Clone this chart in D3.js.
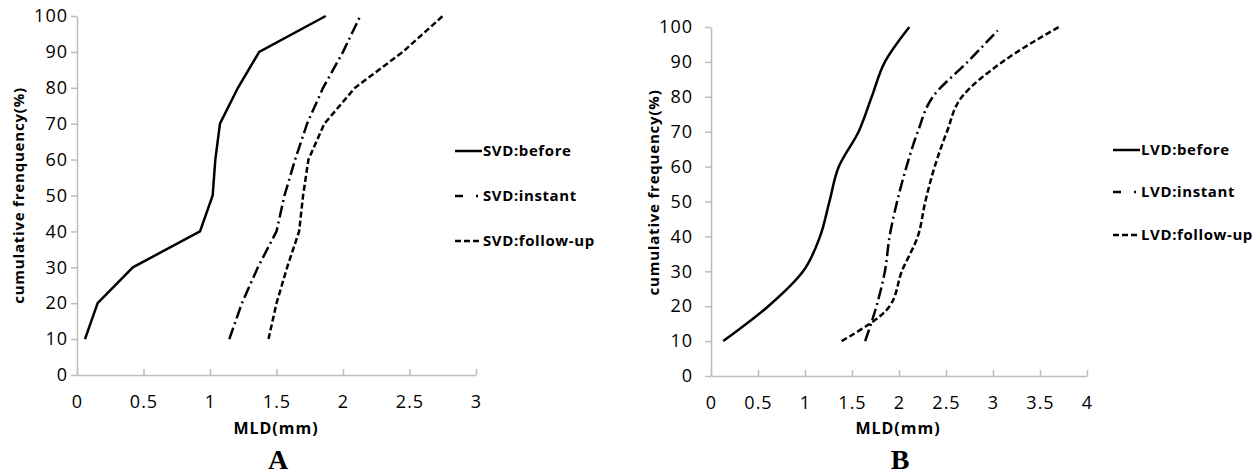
<!DOCTYPE html>
<html>
<head>
<meta charset="utf-8">
<script src="https://cdn.jsdelivr.net/npm/d3@7"></script>
<style>
  body { margin: 0; background: #fff; }
  text { font-family: "Open Sans", "Noto Sans", sans-serif; fill: #000; }
</style>
</head>
<body>
<div id="chart"></div>
<script>
// cumulative frequency levels (%)
var freq = [10, 20, 30, 40, 50, 60, 70, 80, 90, 100];
var freqLvdInstant = [10, 20, 30, 40, 50, 60, 70, 80, 90, 99];

// MLD (mm)
var svdBefore  = [0.06, 0.155, 0.42, 0.925, 1.02, 1.04, 1.075, 1.21, 1.37, 1.87];
var svdInstant = [1.145, 1.24, 1.36, 1.50, 1.56, 1.64, 1.73, 1.85, 2.00, 2.13];
var svdFollow  = [1.44, 1.50, 1.58, 1.67, 1.70, 1.74, 1.86, 2.09, 2.45, 2.75];

var lvdBefore  = [0.13, 0.61, 0.98, 1.16, 1.26, 1.36, 1.57, 1.71, 1.85, 2.11];
var lvdInstant = [1.64, 1.76, 1.85, 1.90, 1.98, 2.08, 2.20, 2.36, 2.73, 3.05];
var lvdFollow  = [1.39, 1.90, 2.03, 2.20, 2.28, 2.38, 2.51, 2.67, 3.10, 3.70];

var yTicks = [0, 10, 20, 30, 40, 50, 60, 70, 80, 90, 100];
var xTicksA = [0, 0.5, 1, 1.5, 2, 2.5, 3];
var xTicksB = [0, 0.5, 1, 1.5, 2, 2.5, 3, 3.5, 4];

var svg = d3.select("#chart").append("svg")
  .attr("width", 1258)
  .attr("height", 474);

var dashes = {
  before: null,
  instant: "12,4,2,4",
  follow: "6,3"
};

function drawPanel(p) {
  var x = d3.scaleLinear().domain(p.xDomain).range([p.left, p.right]);
  var y = d3.scaleLinear().domain([0, 100]).range([p.bottom, p.top]);
  var g = svg.append("g");

  // axes
  var xAxis = g.append("g")
    .attr("transform", "translate(0," + p.bottom + ")")
    .call(d3.axisBottom(x).tickValues(p.xTicks).tickSizeInner(-6).tickSizeOuter(0).tickFormat(d3.format("")));
  xAxis.select(".domain").attr("stroke", "#bdbdbd").attr("stroke-width", 1.5);
  xAxis.selectAll(".tick line").attr("stroke", "#bdbdbd").attr("stroke-width", 1.5);
  xAxis.selectAll(".tick text")
    .attr("y", 20)
    .attr("dy", "0.71em")
    .style("font-size", "18px")
    .style("letter-spacing", "1px");

  var yAxis = g.append("g")
    .attr("transform", "translate(" + p.left + ",0)")
    .call(d3.axisLeft(y).tickValues(yTicks).tickSize(6).tickSizeOuter(0));
  yAxis.select(".domain").attr("stroke", "#bdbdbd").attr("stroke-width", 1.5);
  yAxis.selectAll(".tick line").attr("stroke", "#bdbdbd").attr("stroke-width", 1.5);
  yAxis.selectAll(".tick text")
    .attr("x", -p.labelGap)
    .style("font-size", "18px")
    .style("letter-spacing", "1px");

  // series
  var line = d3.line()
    .x(function(d) { return x(d[0]); })
    .y(function(d) { return y(d[1]); })
    .curve(p.curve);

  p.series.forEach(function(s) {
    var pts = s.values.map(function(v, i) { return [v, s.freq[i]]; });
    g.append("path")
      .datum(pts)
      .attr("fill", "none")
      .attr("stroke", "#000")
      .attr("stroke-width", 2.5)
      .attr("stroke-dasharray", dashes[s.kind])
      .attr("d", line);
  });

  // axis titles
  g.append("text")
    .attr("transform", "translate(" + p.yTitleX + "," + ((p.top + p.bottom) / 2 + p.yTitleShift) + ") rotate(-90)")
    .attr("text-anchor", "middle")
    .style("font-size", "15px")
    .style("font-weight", "bold")
    .style("letter-spacing", "0.8px")
    .text(p.yTitle);

  g.append("text")
    .attr("x", p.titleX)
    .attr("y", 434)
    .attr("text-anchor", "middle")
    .style("font-size", "16px")
    .style("font-weight", "bold")
    .style("letter-spacing", "1px")
    .text("MLD(mm)");

  g.append("text")
    .attr("x", p.titleX + 2)
    .attr("y", 469)
    .attr("text-anchor", "middle")
    .style("font-family", "'Liberation Serif', 'Times New Roman', serif")
    .style("font-size", "28px")
    .style("font-weight", "bold")
    .text(p.letter);

  // legend
  p.series.forEach(function(s, i) {
    var ly = p.legendY[i];
    g.append("line")
      .attr("x1", p.legendX).attr("x2", p.legendX + 27)
      .attr("y1", ly).attr("y2", ly)
      .attr("stroke", "#000")
      .attr("stroke-width", 2.5)
      .attr("stroke-dasharray", s.kind == "instant" ? "8,13,2,4" : dashes[s.kind]);
    g.append("text")
      .attr("x", p.legendX + 28)
      .attr("y", ly)
      .attr("dy", "0.35em")
      .style("font-size", "15px")
      .style("font-weight", "bold")
      .style("letter-spacing", "0.6px")
      .text(s.name);
  });
}

drawPanel({
  xDomain: [0, 3], xTicks: xTicksA,
  left: 77, right: 476, top: 16, bottom: 375,
  labelGap: 9, yTitleX: 24, yTitleShift: 0, titleX: 276, letter: "A",
  yTitle: "cumulative frenquency(%)",
  curve: d3.curveLinear,
  legendX: 455, legendY: [151, 196, 241],
  series: [
    { name: "SVD:before", kind: "before", values: svdBefore, freq: freq },
    { name: "SVD:instant", kind: "instant", values: svdInstant, freq: freq },
    { name: "SVD:follow-up", kind: "follow", values: svdFollow, freq: freq }
  ]
});

drawPanel({
  xDomain: [0, 4], xTicks: xTicksB,
  left: 711, right: 1087, top: 27, bottom: 376,
  labelGap: 18, yTitleX: 659, yTitleShift: -9, titleX: 898, letter: "B",
  yTitle: "cumulative frequency(%)",
  curve: d3.curveMonotoneY,
  legendX: 1113, legendY: [150, 192, 235],
  series: [
    { name: "LVD:before", kind: "before", values: lvdBefore, freq: freq },
    { name: "LVD:instant", kind: "instant", values: lvdInstant, freq: freqLvdInstant },
    { name: "LVD:follow-up", kind: "follow", values: lvdFollow, freq: freq }
  ]
});
</script>
</body>
</html>
